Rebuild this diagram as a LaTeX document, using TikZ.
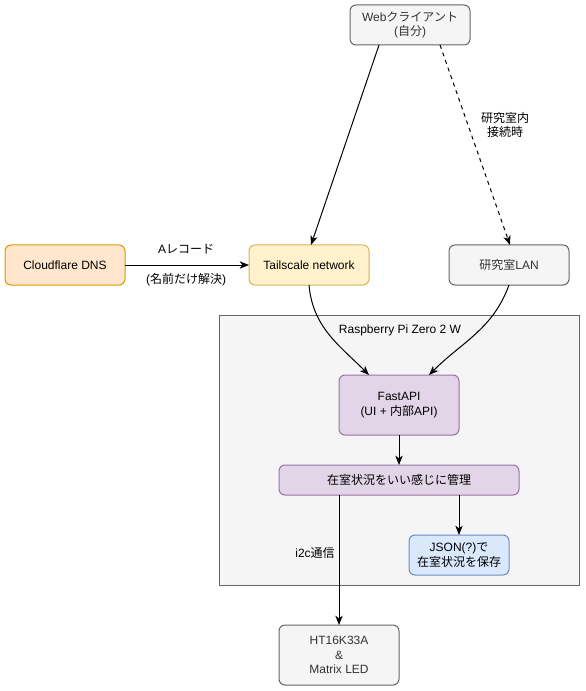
\documentclass[tikz,border=0pt]{standalone}
\usepackage{fontspec}
\setmainfont{Liberation Sans}
\newfontfamily\jp{Noto Sans CJK JP}
\usetikzlibrary{arrows.meta}
\definecolor{grayfill}{HTML}{F5F5F5}
\definecolor{graydraw}{HTML}{666666}
\definecolor{graytext}{HTML}{333333}
\definecolor{orfill}{HTML}{FFE6CC}
\definecolor{ordraw}{HTML}{D79B00}
\definecolor{yefill}{HTML}{FFF2CC}
\definecolor{yedraw}{HTML}{D6B656}
\definecolor{pufill}{HTML}{E1D5E7}
\definecolor{pudraw}{HTML}{9673A6}
\definecolor{blfill}{HTML}{DAE8FC}
\definecolor{bldraw}{HTML}{6C8EBF}
\tikzset{
  box/.style={draw, rounded corners=4.5pt, inner sep=0pt, outer sep=0pt, align=center,
    font=\fontsize{9}{10.8}\selectfont, line width=0.75pt},
  graybox/.style={box, fill=grayfill, draw=graydraw, text=graytext},
  orbox/.style={box, fill=orfill, draw=ordraw},
  yebox/.style={box, fill=yefill, draw=yedraw},
  pubox/.style={box, fill=pufill, draw=pudraw},
  blbox/.style={box, fill=blfill, draw=bldraw},
  conn/.style={-{Stealth[length=7pt,width=5.5pt,inset=2pt]}, line width=0.75pt},
  lbl/.style={font=\fontsize{9}{10.8}\selectfont, align=center, inner sep=0pt}
}
\begin{document}
\begin{tikzpicture}[x=0.75pt,y=-0.75pt]
\useasboundingbox (0,0) rectangle (585,691);
% container
\node[draw=graydraw, fill=grayfill, line width=0.75pt, minimum width=270pt, minimum height=202.5pt, inner sep=0pt, outer sep=0pt] (rpi) at (399,450) {};
\node[lbl] (rpilbl) at (400,330) {Raspberry Pi Zero 2 W};
% nodes
\node[graybox, minimum width=90pt, minimum height=30pt] (web) at (410,25) {Web{\jp クライアント}\\({\jp 自分})};
\node[orbox, minimum width=90pt, minimum height=30pt] (cf) at (65,265) {Cloudflare DNS};
\node[yebox, minimum width=90pt, minimum height=30pt] (ts) at (309,265) {Tailscale network};
\node[graybox, minimum width=90pt, minimum height=30pt] (lan) at (509,265) {{\jp 研究室}LAN};
\node[pubox, minimum width=90pt, minimum height=45pt] (fa) at (399,405) {FastAPI\\(UI + {\jp 内部}API)};
\node[pubox, minimum width=180pt, minimum height=22.5pt] (mg) at (399,480) {\jp 在室状況をいい感じに管理};
\node[blbox, minimum width=75pt, minimum height=30pt] (js) at (459,555) {JSON(?){\jp で}\\{\jp 在室状況を保存}};
\node[graybox, minimum width=90pt, minimum height=45pt] (ht) at (339,655) {HT16K33A\\\&\\Matrix LED};
% coordinates
\coordinate (webL) at (379,45);
\coordinate (webR) at (440,45);
\coordinate (tsT) at (311,245);
\coordinate (lanT) at (510,245);
\coordinate (faL) at (369,375);
\coordinate (faR) at (429,375);
\coordinate (mgL) at (339,495);
\coordinate (mgR) at (459,495);
% edges
\draw[conn] (webL) -- (tsT);
\draw[conn, dashed] (webR) -- (lanT);
\node[lbl] (lanlbl) at (505,125) {\jp 研究室内\\\jp 接続時};
\draw[conn] (cf) -- (ts);
\node[lbl] (alb) at (186,249) {A{\jp レコード}};
\node[lbl] (nlb) at (186,280) {({\jp 名前だけ解決})};
\draw[conn] (ts.south) to[out=-85,in=135] (faL);
\draw[conn] (lan.south) to[out=-110,in=45] (faR);
\draw[conn] (fa) -- (mg);
\draw[conn] (mgR) -- (js);
\draw[conn] (mgL) -- (ht);
\node[lbl] (i2c) at (315,553) {i2c{\jp 通信}};
\end{tikzpicture}
\end{document}
